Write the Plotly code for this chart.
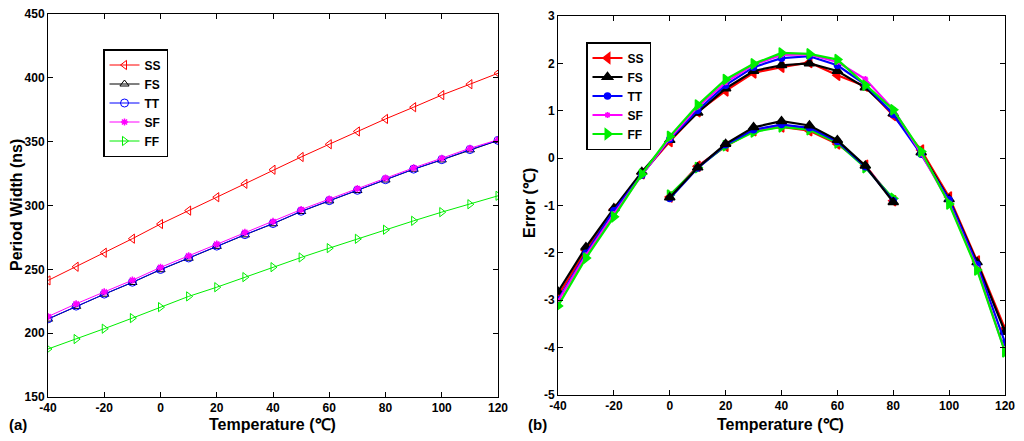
import plotly.graph_objects as go

temps = [-40, -30, -20, -10, 0, 10, 20, 30, 40, 50, 60, 70, 80, 90, 100, 110, 120]

# Panel (a): period width (ns)
pw_SS = [241.3, 252, 263, 274, 285.5, 296, 306.5, 317, 328, 338, 348, 358, 367.8, 377, 386.5, 395, 403.6]
pw_FS = [211, 221, 230.5, 239.7, 249.7, 258.7, 268, 277, 285.7, 295.3, 303.6, 311.7, 320, 328.4, 335.7, 343.6, 350.9]
pw_TT = [211.2, 221.2, 230.6, 239.9, 249.9, 258.9, 268.2, 277.2, 285.9, 295.5, 303.8, 311.9, 320.2, 328.5, 335.9, 343.8, 351]
pw_SF = [213, 223, 232.3, 241.5, 251.5, 260.5, 269.8, 279, 287.5, 296.8, 305, 313.2, 321.5, 329.5, 337, 344.8, 351.5]
pw_FF = [187.6, 195.4, 203.5, 211.8, 220.4, 228.8, 236, 243.9, 251.7, 259.3, 266.6, 273.9, 281, 288, 294.8, 301, 307.6]

# Panel (b): error (degC), outer curve (-40..120)
er_SS = [-2.9, -1.95, -1.08, -0.33, 0.35, 0.98, 1.42, 1.8, 1.92, 2.02, 1.75, 1.52, 0.9, 0.17, -0.82, -2.17, -3.6]
er_FS = [-2.82, -1.88, -1.06, -0.29, 0.38, 0.96, 1.47, 1.84, 1.96, 2.0, 1.84, 1.49, 0.94, 0.12, -0.87, -2.2, -3.67]
er_TT = [-2.99, -2.01, -1.11, -0.36, 0.4, 1.01, 1.54, 1.92, 2.11, 2.15, 1.96, 1.55, 0.92, 0.08, -0.88, -2.25, -3.89]
er_SF = [-3.02, -2.05, -1.18, -0.36, 0.42, 1.08, 1.6, 1.97, 2.18, 2.19, 2.03, 1.67, 1.03, 0.1, -0.95, -2.33, -4.08]
er_FF = [-3.12, -2.11, -1.24, -0.34, 0.46, 1.12, 1.66, 1.99, 2.22, 2.2, 2.08, 1.54, 1.02, 0.14, -0.97, -2.36, -4.09]

# Panel (b): error (degC), inner curve (0..80)
temps_in = [0, 10, 20, 30, 40, 50, 60, 70, 80]
ei_SS = [-0.82, -0.17, 0.25, 0.58, 0.66, 0.58, 0.3, -0.15, -0.9]
ei_FS = [-0.83, -0.2, 0.3, 0.65, 0.78, 0.69, 0.38, -0.16, -0.93]
ei_TT = [-0.85, -0.21, 0.28, 0.6, 0.71, 0.64, 0.35, -0.18, -0.9]
ei_SF = [-0.8, -0.19, 0.27, 0.59, 0.7, 0.62, 0.33, -0.17, -0.88]
ei_FF = [-0.78, -0.2, 0.26, 0.55, 0.66, 0.6, 0.32, -0.2, -0.85]

# Tick labels
x_ticks = [-40, -20, 0, 20, 40, 60, 80, 100, 120]
x_ticklabels = ["-40", "-20", "0", "20", "40", "60", "80", "100", "120"]
ya_ticks = [150, 200, 250, 300, 350, 400, 450]
ya_ticklabels = ["150", "200", "250", "300", "350", "400", "450"]
yb_ticks = [-5, -4, -3, -2, -1, 0, 1, 2, 3]
yb_ticklabels = ["-5", "-4", "-3", "-2", "-1", "0", "1", "2", "3"]

names = ["SS", "FS", "TT", "SF", "FF"]
colors = ["#ff0000", "#000000", "#0000ff", "#ff00ff", "#00ee00"]
sym_a = ["triangle-left-open", "triangle-up-open", "circle-open", "asterisk-open", "triangle-right-open"]
sym_b = ["triangle-left", "triangle-up", "circle", "asterisk-open", "triangle-right"]
size_a = [8, 8, 8, 6, 8]
size_b = [9, 9, 6, 5, 9]

W, H = 1024, 441


def px(p):
    return p / W


def py(q):
    return 1 - q / H


fig = go.Figure()

pw = [pw_SS, pw_FS, pw_TT, pw_SF, pw_FF]
for n, c, s, sz, y in zip(names, colors, sym_a, size_a, pw):
    fig.add_trace(go.Scatter(
        x=temps, y=y, name=n, mode="lines+markers",
        line=dict(color=c, width=1),
        marker=dict(symbol=s, size=sz, color=c, line=dict(color=c, width=1.5 if "asterisk" in s else 1)),
        xaxis="x", yaxis="y", legend="legend"))

er = [er_SS, er_FS, er_TT, er_SF, er_FF]
for n, c, s, sz, y in zip(names, colors, sym_b, size_b, er):
    fig.add_trace(go.Scatter(
        x=temps, y=y, name=n, mode="lines+markers",
        line=dict(color=c, width=2.2),
        marker=dict(symbol=s, size=sz, color=c, line=dict(color=c, width=1.5)),
        xaxis="x2", yaxis="y2", legend="legend2"))

ei = [ei_SS, ei_FS, ei_TT, ei_SF, ei_FF]
inner_order = [0, 3, 4, 2, 1]
for i in inner_order:
    fig.add_trace(go.Scatter(
        x=temps_in, y=ei[i], name=names[i], mode="lines+markers", showlegend=False,
        line=dict(color=colors[i], width=2.2),
        marker=dict(symbol=sym_b[i], size=size_b[i], color=colors[i], line=dict(color=colors[i], width=1.5)),
        xaxis="x2", yaxis="y2"))

FONT = "Liberation Sans"
font_tick = dict(family=FONT, size=12, color="black", weight="bold")
fx_title = dict(family=FONT, size=16, color="black", weight="bold")
fy_title = dict(family=FONT, size=16, color="black", weight="bold")
leg_font = dict(family=FONT, size=12, color="black", weight="bold")
lab_font = dict(family=FONT, size=15, color="black", weight="bold")

ax_common = dict(showline=True, linecolor="black", linewidth=1, mirror="ticks",
                 ticks="inside", ticklen=5, tickcolor="black", showgrid=False,
                 zeroline=False, tickfont=font_tick, automargin=False, tickmode="array")

fig.update_layout(
    width=W, height=H,
    margin=dict(l=0, r=0, t=0, b=0),
    paper_bgcolor="white", plot_bgcolor="white",
    xaxis=dict(domain=[px(48), px(498)], range=[-40, 120], tickvals=x_ticks, ticktext=x_ticklabels,
               anchor="y", **ax_common),
    yaxis=dict(domain=[py(397), py(14)], range=[150, 450], tickvals=ya_ticks, ticktext=ya_ticklabels,
               anchor="x", **ax_common),
    xaxis2=dict(domain=[px(558), px(1005)], range=[-40, 120], tickvals=x_ticks, ticktext=x_ticklabels,
                anchor="y2", **ax_common),
    yaxis2=dict(domain=[py(395), py(16)], range=[-5, 3], tickvals=yb_ticks, ticktext=yb_ticklabels,
                anchor="x2", **ax_common),
    legend=dict(x=px(103), y=py(49), xanchor="left", yanchor="top",
                bgcolor="white", bordercolor="black", borderwidth=1.5,
                font=leg_font, tracegroupgap=0, itemwidth=30),
    legend2=dict(x=px(586), y=py(42), xanchor="left", yanchor="top",
                 bgcolor="white", bordercolor="black", borderwidth=1.5,
                 font=leg_font, tracegroupgap=0, itemwidth=30),
    annotations=[
        dict(text="Temperature (℃)", x=px(272), y=py(424), xref="paper", yref="paper",
             xanchor="center", yanchor="middle", showarrow=False, font=fx_title),
        dict(text="Temperature (℃)", x=px(780), y=py(424), xref="paper", yref="paper",
             xanchor="center", yanchor="middle", showarrow=False, font=fx_title),
        dict(text="Period Width (ns)", x=px(16), y=py(205), xref="paper", yref="paper", textangle=-90,
             xanchor="center", yanchor="middle", showarrow=False, font=fy_title),
        dict(text="Error (℃)", x=px(530), y=py(203), xref="paper", yref="paper", textangle=-90,
             xanchor="center", yanchor="middle", showarrow=False, font=fy_title),
        dict(text="(a)", x=px(7), y=py(424), xref="paper", yref="paper", xanchor="left",
             yanchor="middle", showarrow=False, font=lab_font),
        dict(text="(b)", x=px(526), y=py(424), xref="paper", yref="paper", xanchor="left",
             yanchor="middle", showarrow=False, font=lab_font),
    ],
)

# remove the browser's default 8px body margin so the figure fills the window exactly
fig.write_html("out.html", config={"displayModeBar": False},
               post_script="document.body.style.margin='0';")
